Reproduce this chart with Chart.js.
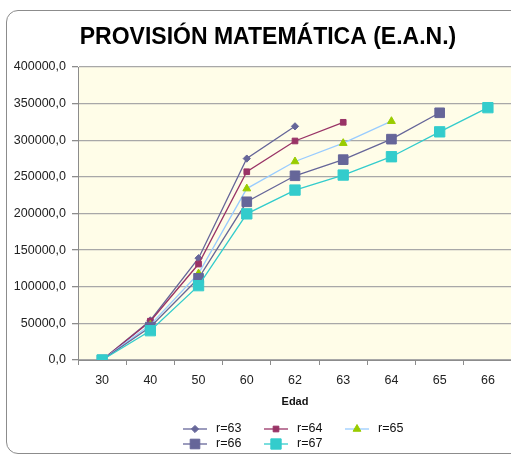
<!DOCTYPE html>
<html>
<head>
<meta charset="utf-8">
<script src="https://cdn.jsdelivr.net/npm/chart.js@4.4.1/dist/chart.umd.min.js"></script>
<style>
  html, body { margin: 0; padding: 0; background: #fff; overflow: hidden; }
  #frame { position: absolute; left: 6px; top: 10px; width: 580px; height: 442px; border: 1px solid #8c8c8c; border-radius: 12px; }
  #chart { position: absolute; left: 0; top: 0; }
</style>
</head>
<body>
<div id="frame"></div>
<canvas id="chart" width="536" height="455"></canvas>
<script>
// edades (eje x)
const ages = ["30", "40", "50", "60", "62", "63", "64", "65", "66"];

// provisión matemática por edad de retiro
const seriesNames = ["r=63", "r=64", "r=65", "r=66", "r=67"];
const r63 = [0, 54000, 139000, 275000, 319000, null, null, null, null];
const r64 = [0, 53000, 131000, 257000, 299000, 324500, null, null, null];
const r65 = [0, 48000, 118000, 234000, 271000, 296000, 326000, null, null];
const r66 = [0, 45000, 111500, 216000, 251500, 273500, 301500, 337500, null];
const r67 = [0, 40000, 101500, 199500, 232000, 252500, 277500, 311500, 344500];
const seriesValues = [r63, r64, r65, r66, r67];

const yMin = 0;
const yMax = 400000;
const yStep = 50000;

const chartTitle = "PROVISIÓN MATEMÁTICA (E.A.N.)";

const lineColors = ["#666699", "#993366", "#99ccff", "#666699", "#33cccc"];
const markerColors = ["#666699", "#993366", "#99cc00", "#666699", "#33cccc"];
const markerStyles = ["rectRot", "rect", "triangle", "rect", "rect"];
const markerSizes = [3.6, 4, 4.5, 6.8, 7.3];

const FONT = "'Liberation Sans', Arial, sans-serif";

function formatTick(value) {
  return value.toFixed(1).replace(".", ",");
}

const plotBackground = {
  id: "plotBackground",
  beforeDraw(chart) {
    const { ctx, chartArea } = chart;
    ctx.save();
    ctx.fillStyle = "#fffde8";
    ctx.fillRect(chartArea.left, chartArea.top, chartArea.right - chartArea.left, chartArea.bottom - chartArea.top);
    ctx.restore();
  },
};

// el título va centrado en todo el gráfico (que sigue más allá de la ventana)
const centeredTitle = {
  id: "centeredTitle",
  afterDraw(chart) {
    const ctx = chart.ctx;
    ctx.save();
    ctx.fillStyle = "#000";
    ctx.font = "bold 23px " + FONT;
    ctx.textAlign = "center";
    ctx.textBaseline = "middle";
    ctx.fillText(chartTitle, 268, 37.5);
    ctx.restore();
  },
};

// leyenda en rejilla de 3 columnas como en Excel
const legendCols = [183, 264, 345];
const legendRows = [429, 444];
const gridLegend = {
  id: "gridLegend",
  afterDraw(chart) {
    const ctx = chart.ctx;
    chart.data.datasets.forEach((ds, i) => {
      const x = legendCols[i % 3];
      const y = legendRows[Math.floor(i / 3)];
      ctx.save();
      ctx.strokeStyle = ds.borderColor;
      ctx.lineWidth = ds.borderWidth;
      ctx.beginPath();
      ctx.moveTo(x, y);
      ctx.lineTo(x + 24, y);
      ctx.stroke();
      ctx.fillStyle = ds.pointBackgroundColor;
      ctx.strokeStyle = ds.pointBorderColor;
      ctx.lineWidth = 1;
      Chart.helpers.drawPoint(ctx, { pointStyle: ds.pointStyle, radius: ds.pointRadius, rotation: 0, borderWidth: 1 }, x + 12, y);
      ctx.fillStyle = "#111";
      ctx.font = "12.5px " + FONT;
      ctx.textBaseline = "middle";
      ctx.textAlign = "left";
      ctx.fillText(ds.label, x + 33, y);
      ctx.restore();
    });
  },
};

const datasets = seriesNames.map((name, i) => ({
  label: name,
  data: seriesValues[i],
  borderColor: lineColors[i],
  backgroundColor: markerColors[i],
  borderWidth: 1.3,
  pointStyle: markerStyles[i],
  pointRadius: markerSizes[i],
  pointHoverRadius: markerSizes[i],
  pointBackgroundColor: markerColors[i],
  pointBorderColor: markerColors[i],
  pointBorderWidth: 1,
  spanGaps: false,
  tension: 0,
  order: seriesNames.length - i,
}));

new Chart(document.getElementById("chart"), {
  type: "line",
  data: { labels: ages, datasets: datasets },
  options: {
    responsive: false,
    animation: false,
    layout: { padding: { left: 0, right: 24, top: 67, bottom: 45 } },
    plugins: {
      legend: { display: false },
      tooltip: { enabled: false },
      title: { display: false },
    },
    scales: {
      x: {
        type: "category",
        offset: true,
        grid: { display: true, drawOnChartArea: false, drawTicks: true, tickLength: 5, offset: true, color: "#8c8c8c" },
        border: { color: "#8c8c8c", width: 1 },
        ticks: { color: "#222", font: { family: FONT, size: 12.5 }, padding: 8, maxRotation: 0, autoSkip: false },
        title: { display: true, text: "Edad", color: "#111", font: { family: FONT, size: 11, weight: "bold" }, padding: { top: 0, bottom: 1 } },
        afterFit(scale) { scale.height = 50; },
      },
      y: {
        min: yMin,
        max: yMax,
        grid: { color: "#a8a8a8", lineWidth: 1.3, tickLength: 6, tickColor: "#8c8c8c" },
        border: { color: "#8c8c8c", width: 1 },
        ticks: { stepSize: yStep, color: "#222", font: { family: FONT, size: 12.5 }, padding: 6, callback: formatTick },
        afterFit(scale) { scale.width = 78; },
      },
    },
  },
  plugins: [plotBackground, centeredTitle, gridLegend],
});
</script>
</body>
</html>
